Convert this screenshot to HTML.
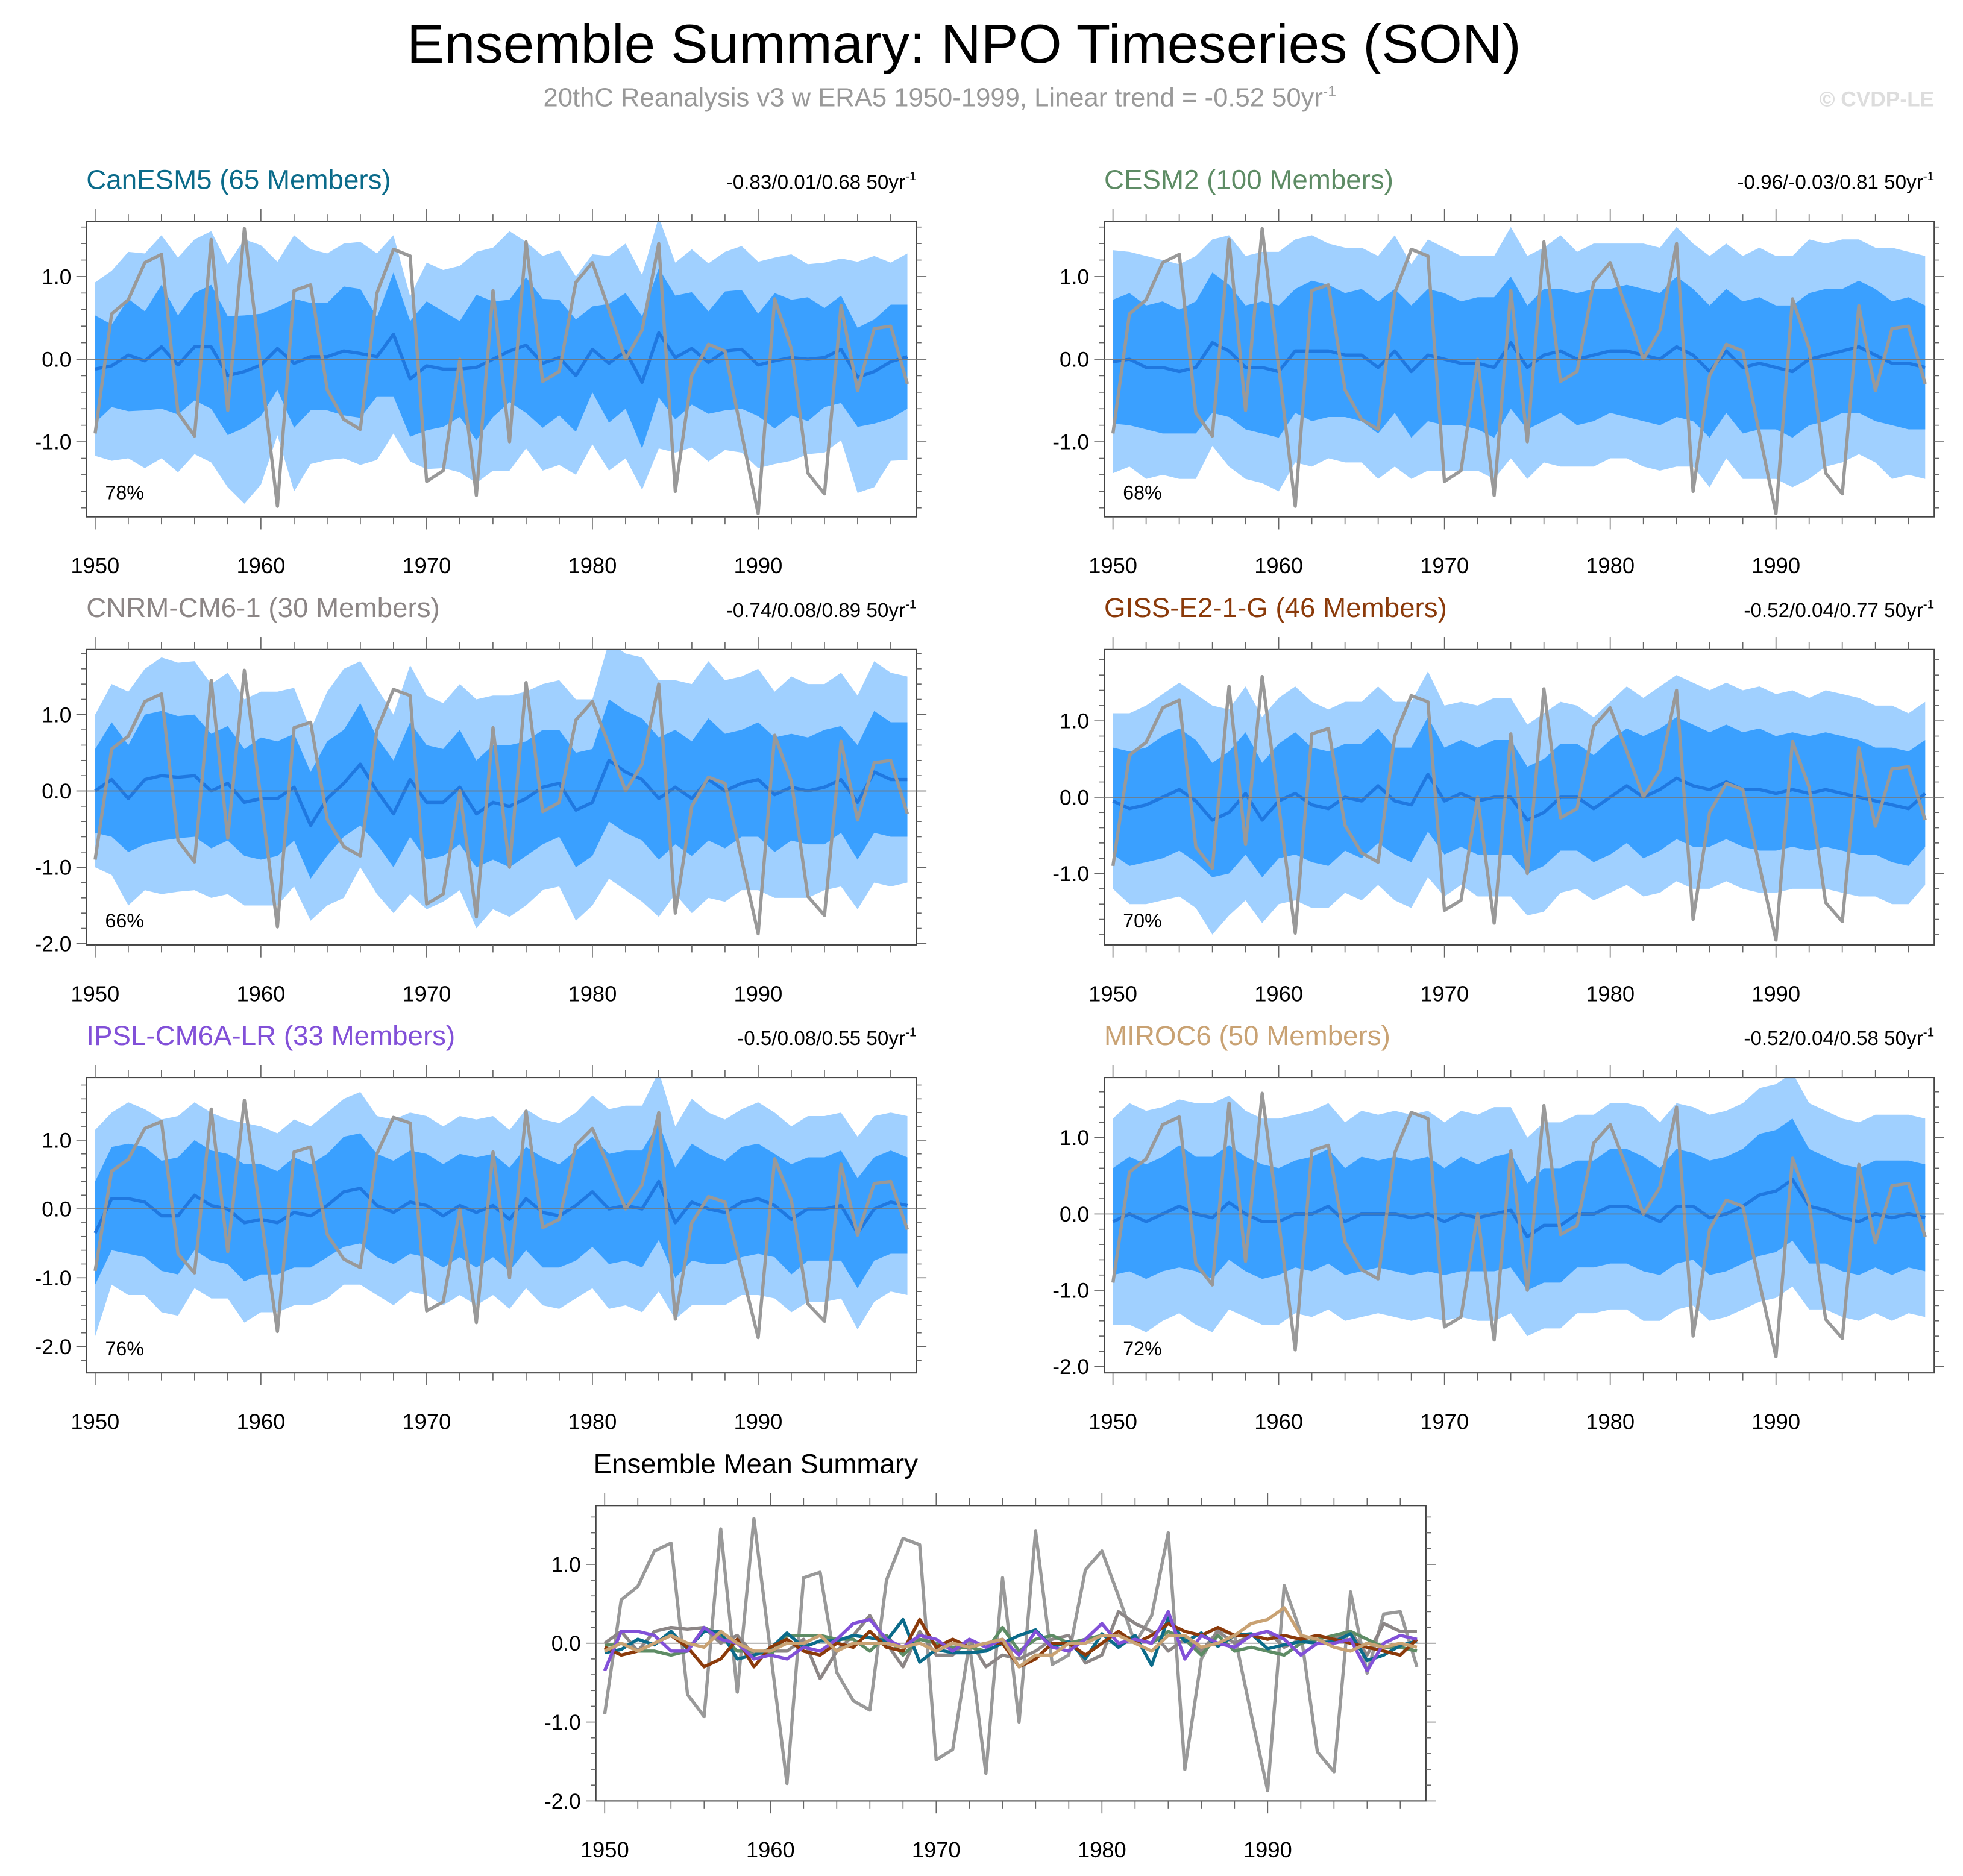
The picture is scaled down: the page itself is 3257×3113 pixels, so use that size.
<!DOCTYPE html>
<html><head><meta charset="utf-8">
<style>
html,body{margin:0;padding:0;background:#fff;}
svg{display:block;font-family:"Liberation Sans",sans-serif;}
</style></head>
<body>
<svg id="chart" width="3257" height="3113" viewBox="0 0 1568 1499" preserveAspectRatio="none" xmlns="http://www.w3.org/2000/svg">
<text x="325" y="50" font-size="44" textLength="890" lengthAdjust="spacingAndGlyphs" fill="#000">Ensemble Summary: NPO Timeseries (SON)</text>
<text x="434" y="85" font-size="21" fill="#999">20thC Reanalysis v3 w ERA5 1950-1999, Linear trend = -0.52 50yr<tspan dy="-8" font-size="12">-1</tspan></text>
<text x="1545" y="85" font-size="17" font-weight="bold" text-anchor="end" fill="#ddd">© CVDP-LE</text>
<g id="plots"></g>
</svg>
<script>
const years = [];
for (let y = 1950; y <= 1999; y++) years.push(y);
const xTickLabels = ["1950","1960","1970","1980","1990"];
const obs = [-0.9,0.55,0.72,1.17,1.27,-0.65,-0.93,1.45,-0.62,1.58,-0.1,-1.78,0.83,0.9,-0.37,-0.73,-0.85,0.8,1.33,1.25,-1.48,-1.35,0.0,-1.65,0.83,-1.0,1.42,-0.27,-0.15,0.93,1.17,0.6,0.0,0.35,1.4,-1.6,-0.2,0.18,0.1,-0.9,-1.87,0.73,0.13,-1.38,-1.63,0.65,-0.38,0.37,0.4,-0.3];

const canMean = [-0.12,-0.08,0.05,-0.02,0.15,-0.07,0.15,0.15,-0.2,-0.15,-0.07,0.13,-0.05,0.03,0.03,0.1,0.07,0.03,0.3,-0.24,-0.08,-0.12,-0.12,-0.1,0.0,0.1,0.17,-0.05,0.02,-0.2,0.12,-0.05,0.1,-0.28,0.32,0.02,0.13,-0.04,0.1,0.12,-0.07,-0.02,0.02,0.0,0.02,0.12,-0.22,-0.15,-0.03,0.03];
const canOuter = [1.05,1.15,1.25,1.3,1.35,1.3,1.3,1.4,1.35,1.6,1.45,1.05,1.55,1.3,1.25,1.3,1.35,1.25,1.2,1.0,1.25,1.2,1.25,1.4,1.35,1.45,1.25,1.3,1.3,1.2,1.15,1.3,1.3,1.3,1.4,1.15,1.2,1.2,1.2,1.25,1.25,1.25,1.25,1.15,1.15,1.1,1.4,1.4,1.2,1.25];
const canInner = [0.65,0.5,0.68,0.6,0.75,0.6,0.65,0.75,0.72,0.68,0.62,0.5,0.78,0.65,0.65,0.78,0.78,0.48,0.75,0.7,0.78,0.7,0.58,0.88,0.7,0.62,0.82,0.78,0.7,0.68,0.52,0.72,0.7,0.8,0.78,0.75,0.68,0.62,0.72,0.72,0.62,0.82,0.7,0.75,0.6,0.65,0.6,0.63,0.69,0.63];

const cesmMean = [-0.03,0.0,-0.1,-0.1,-0.15,-0.1,0.2,0.1,-0.1,-0.1,-0.15,0.1,0.1,0.1,0.05,0.05,-0.1,0.1,-0.15,0.05,0.0,-0.05,-0.05,-0.1,0.2,-0.1,0.05,0.1,0.0,0.05,0.1,0.1,0.05,0.0,0.15,0.05,-0.15,0.1,-0.1,-0.05,-0.1,-0.15,0.0,0.05,0.1,0.15,0.05,-0.05,-0.05,-0.1];
const cesmOuter = [1.35,1.3,1.35,1.3,1.3,1.35,1.25,1.4,1.35,1.4,1.45,1.35,1.4,1.3,1.3,1.3,1.35,1.4,1.3,1.4,1.35,1.3,1.3,1.35,1.4,1.35,1.3,1.4,1.3,1.35,1.3,1.3,1.35,1.35,1.45,1.35,1.4,1.3,1.35,1.4,1.35,1.4,1.45,1.35,1.35,1.3,1.3,1.4,1.35,1.35];
const cesmInner = [0.75,0.8,0.75,0.8,0.75,0.8,0.85,0.8,0.75,0.8,0.8,0.75,0.85,0.8,0.75,0.8,0.8,0.75,0.8,0.8,0.8,0.75,0.8,0.85,0.8,0.75,0.8,0.75,0.8,0.8,0.75,0.8,0.8,0.8,0.85,0.8,0.8,0.75,0.8,0.8,0.75,0.8,0.8,0.8,0.75,0.8,0.8,0.75,0.8,0.75];

const cnrmMean = [0.0,0.15,-0.1,0.15,0.2,0.18,0.2,0.0,0.1,-0.15,-0.1,-0.1,0.05,-0.45,-0.1,0.1,0.35,0.0,-0.3,0.15,-0.15,-0.15,0.05,-0.3,-0.15,-0.2,-0.1,0.05,0.1,-0.25,-0.15,0.4,0.25,0.15,-0.1,0.05,-0.1,0.15,0.0,0.1,0.15,-0.05,0.05,0.0,0.05,0.15,-0.15,0.25,0.15,0.15];
const cnrmOuter = [1.0,1.25,1.4,1.45,1.55,1.5,1.5,1.4,1.45,1.35,1.4,1.4,1.3,1.25,1.4,1.5,1.35,1.35,1.3,1.5,1.4,1.3,1.35,1.5,1.4,1.45,1.4,1.35,1.35,1.45,1.35,1.55,1.55,1.6,1.55,1.4,1.5,1.55,1.45,1.4,1.45,1.35,1.45,1.4,1.35,1.4,1.4,1.45,1.4,1.35];
const cnrmInner = [0.55,0.75,0.7,0.85,0.85,0.8,0.8,0.75,0.75,0.7,0.8,0.75,0.7,0.7,0.75,0.7,0.8,0.7,0.7,0.75,0.75,0.7,0.75,0.7,0.75,0.8,0.75,0.75,0.7,0.75,0.7,0.8,0.8,0.8,0.8,0.75,0.75,0.8,0.75,0.7,0.75,0.75,0.7,0.7,0.75,0.7,0.75,0.8,0.75,0.75];

const gissMean = [-0.05,-0.15,-0.1,0.0,0.1,-0.05,-0.3,-0.2,0.05,-0.3,-0.05,0.05,-0.1,-0.15,0.0,-0.05,0.15,-0.05,-0.1,0.3,-0.05,0.05,-0.05,0.0,0.0,-0.3,-0.2,0.0,0.0,-0.15,0.0,0.15,0.0,0.1,0.25,0.15,0.1,0.2,0.1,0.1,0.05,0.1,0.05,0.1,0.05,0.0,-0.05,-0.1,-0.15,0.05];
const gissOuter = [1.15,1.25,1.3,1.35,1.4,1.4,1.5,1.35,1.4,1.35,1.35,1.4,1.35,1.3,1.25,1.3,1.3,1.3,1.35,1.35,1.25,1.2,1.25,1.3,1.3,1.25,1.3,1.25,1.2,1.2,1.25,1.3,1.3,1.35,1.35,1.35,1.3,1.3,1.3,1.35,1.3,1.3,1.25,1.3,1.3,1.3,1.25,1.3,1.25,1.2];
const gissInner = [0.7,0.75,0.75,0.8,0.8,0.8,0.75,0.8,0.8,0.75,0.75,0.8,0.75,0.75,0.7,0.75,0.75,0.7,0.75,0.75,0.7,0.7,0.7,0.75,0.75,0.7,0.7,0.7,0.7,0.7,0.75,0.75,0.8,0.8,0.8,0.8,0.75,0.75,0.75,0.8,0.75,0.75,0.75,0.75,0.75,0.75,0.7,0.75,0.75,0.7];

const ipslMean = [-0.35,0.15,0.15,0.1,-0.1,-0.1,0.2,0.05,0.0,-0.2,-0.15,-0.2,-0.05,-0.1,0.05,0.25,0.3,0.05,-0.05,0.1,0.05,-0.1,0.05,-0.05,0.05,-0.15,0.15,-0.05,-0.1,0.05,0.25,0.0,0.05,0.0,0.4,-0.2,0.1,0.0,-0.05,0.1,0.15,0.05,-0.15,0.0,0.0,0.05,-0.35,0.0,0.1,0.05];
const ipslOuter = [1.5,1.25,1.4,1.35,1.4,1.45,1.35,1.35,1.3,1.45,1.35,1.3,1.35,1.3,1.35,1.35,1.4,1.3,1.35,1.3,1.3,1.3,1.3,1.35,1.3,1.3,1.3,1.35,1.35,1.35,1.4,1.45,1.45,1.5,1.6,1.4,1.5,1.4,1.35,1.35,1.4,1.35,1.35,1.35,1.35,1.35,1.4,1.35,1.3,1.3];
const ipslInner = [0.75,0.75,0.8,0.8,0.8,0.85,0.8,0.8,0.8,0.85,0.8,0.75,0.8,0.75,0.75,0.8,0.8,0.75,0.75,0.75,0.75,0.75,0.75,0.8,0.75,0.75,0.75,0.8,0.75,0.8,0.8,0.8,0.8,0.85,0.85,0.8,0.85,0.8,0.75,0.8,0.8,0.75,0.8,0.75,0.75,0.8,0.8,0.75,0.75,0.7];

const mirocMean = [-0.1,0.0,-0.1,0.0,0.1,0.0,-0.05,0.15,0.0,-0.1,-0.1,0.0,0.0,0.1,-0.1,0.0,0.0,0.0,-0.05,0.0,-0.1,0.0,-0.05,0.0,0.05,-0.3,-0.15,-0.15,0.0,0.0,0.1,0.1,0.0,-0.1,0.1,0.1,-0.05,0.0,0.1,0.25,0.3,0.45,0.1,0.05,-0.05,-0.1,0.0,-0.05,0.0,-0.05];
const mirocOuter = [1.35,1.45,1.45,1.4,1.4,1.45,1.5,1.4,1.35,1.35,1.35,1.3,1.35,1.35,1.3,1.35,1.3,1.35,1.35,1.35,1.3,1.35,1.35,1.4,1.35,1.3,1.35,1.35,1.3,1.3,1.35,1.35,1.4,1.3,1.35,1.3,1.35,1.35,1.35,1.4,1.4,1.4,1.35,1.3,1.3,1.3,1.3,1.35,1.3,1.3];
const mirocInner = [0.7,0.75,0.75,0.75,0.8,0.75,0.8,0.75,0.75,0.75,0.7,0.7,0.75,0.75,0.7,0.75,0.7,0.75,0.75,0.75,0.7,0.75,0.7,0.75,0.75,0.7,0.75,0.75,0.7,0.7,0.75,0.75,0.75,0.7,0.75,0.7,0.75,0.75,0.75,0.8,0.8,0.8,0.75,0.7,0.7,0.7,0.7,0.75,0.7,0.7];

const panelNames = ["CanESM5 (65 Members)","CESM2 (100 Members)","CNRM-CM6-1 (30 Members)","GISS-E2-1-G (46 Members)","IPSL-CM6A-LR (33 Members)","MIROC6 (50 Members)"];
const panelTrends = ["-0.83/0.01/0.68","-0.96/-0.03/0.81","-0.74/0.08/0.89","-0.52/0.04/0.77","-0.5/0.08/0.55","-0.52/0.04/0.58"];
const panelPercents = ["78%","68%","66%","70%","76%","72%"];
const panelColors = ["#0b6b8a","#5e8c65","#8c8686","#8b3a0a","#8250d8","#c9a273"];
const panelMeans = [canMean,cesmMean,cnrmMean,gissMean,ipslMean,mirocMean];
const panelOuter = [canOuter,cesmOuter,cnrmOuter,gissOuter,ipslOuter,mirocOuter];
const panelInner = [canInner,cesmInner,cnrmInner,gissInner,ipslInner,mirocInner];

const NS = "http://www.w3.org/2000/svg";
const root = document.getElementById('plots');
function mk(tag, attrs, parent){ const e=document.createElementNS(NS,tag); for(const k in attrs) e.setAttribute(k,attrs[k]); (parent||root).appendChild(e); return e; }

const geo = [
 [69,177,287,66,-1],[882,177,287,66,-1],
 [69,519,632,61,-2],[882,519,637,61,-1],
 [69,861,966,55,-2],[882,861,970,61,-2]
];
const W=663,H=236;

function axes(g, bx, by, zy, k, yMinLab){
  const xs = yr => bx + 7 + (yr-1950)*13.24;
  const ys = v => zy - v*k;
  mk('rect',{x:bx,y:by,width:W,height:H,fill:'none',stroke:'#444','stroke-width':1},g);
  for(let yr=1950; yr<=1999; yr+=2){
    const major = yr%10===0, L = major?10:6;
    mk('line',{x1:xs(yr),x2:xs(yr),y1:by,y2:by-L,stroke:'#666','stroke-width':0.8},g);
    mk('line',{x1:xs(yr),x2:xs(yr),y1:by+H,y2:by+H+L,stroke:'#666','stroke-width':0.8},g);
  }
  xTickLabels.forEach(t=>{
    const tx = mk('text',{x:xs(+t),y:by+H+45,'font-size':17.5,'text-anchor':'middle',fill:'#000'},g);
    
    
    tx.textContent=t;
  });
  for(let i=-15;i<=15;i++){
    const v=i*0.2, y=ys(v);
    if(y<by-0.5||y>by+H+0.5) continue;
    const major = i%5===0, L=major?8:4;
    mk('line',{x1:bx,x2:bx-L,y1:y,y2:y,stroke:'#666','stroke-width':0.8},g);
    mk('line',{x1:bx+W,x2:bx+W+L,y1:y,y2:y,stroke:'#666','stroke-width':0.8},g);
    if(major && v>=yMinLab-0.01){
      const tx = mk('text',{x:bx-12,y:y+6,'font-size':17,'text-anchor':'end',fill:'#000'},g);
      
      
      tx.textContent=(Math.round(v*10)/10).toFixed(1);
    }
  }
  mk('line',{x1:bx,x2:bx+W,y1:ys(0),y2:ys(0),stroke:'#777','stroke-width':0.8},g);
  return {xs,ys};
}
function linePath(vals, xs, ys){ return vals.map((v,i)=>(i?'L':'M')+xs(years[i]).toFixed(1)+','+ys(v).toFixed(1)).join(''); }
function bandPath(mean, w, xs, ys){
  let d = mean.map((m,i)=>(i?'L':'M')+xs(years[i]).toFixed(1)+','+ys(m+w[i]).toFixed(1)).join('');
  for(let i=mean.length-1;i>=0;i--) d+='L'+xs(years[i]).toFixed(1)+','+ys(mean[i]-w[i]).toFixed(1);
  return d+'Z';
}

panelNames.forEach((nm,p)=>{
  const [bx,by,zy,k,ymin]=geo[p];
  const g = mk('g',{});
  
  
  const t = mk('text',{x:bx,y:by-26,'font-size':22,fill:panelColors[p]},g);
  
  
  t.textContent=nm;
  const tr = mk('text',{x:bx+W,y:by-26,'font-size':16,'text-anchor':'end',fill:'#000'},g);
  
  
  tr.innerHTML = panelTrends[p]+' 50yr<tspan dy="-7" font-size="10">-1</tspan>';
  const clip = mk('clipPath',{id:'c'+p},g);
  mk('rect',{x:bx,y:by,width:W,height:H},clip);
  const xs = yr=>bx+7+(yr-1950)*13.24, ys = v=>zy-v*k;
  const pl = mk('g',{'clip-path':'url(#c'+p+')'},g);
  const ob = mk('path',{d:bandPath(panelMeans[p],panelOuter[p],xs,ys),fill:'#a0d0ff'},pl);
  
  
  const ib = mk('path',{d:bandPath(panelMeans[p],panelInner[p],xs,ys),fill:'#3aa0ff'},pl);
  
  
  axes(g,bx,by,zy,k,ymin);
  const ml = mk('path',{d:linePath(panelMeans[p],xs,ys),fill:'none',stroke:'#1f78e0','stroke-width':2.6,'stroke-linejoin':'round'},pl);
  
  
  const ol = mk('path',{d:linePath(obs,xs,ys),fill:'none',stroke:'#999','stroke-width':2.6,'stroke-linejoin':'round'},pl);
  
  
  const pc = mk('text',{x:bx+15,y:by+H-14,'font-size':15.5,fill:'#000'},g);
  
  
  pc.textContent=panelPercents[p];
});

(function(){
  const bx=476,by=1203,zy=1313,k=63;
  const g = mk('g',{});
  
  
  const t = mk('text',{x:474,y:1177,'font-size':22,fill:'#000'},g);
  
  
  t.textContent='Ensemble Mean Summary';
  const {xs,ys}=axes(g,bx,by,zy,k,-2);
  const ol = mk('path',{d:linePath(obs,xs,ys),fill:'none',stroke:'#999','stroke-width':2.6,'stroke-linejoin':'round'},g);
  
  
  const order=[2,1,0,3,4,5];
  order.forEach(p=>{
    const l = mk('path',{d:linePath(panelMeans[p],xs,ys),fill:'none',stroke:panelColors[p],'stroke-width':2.6,'stroke-linejoin':'round'},g);
    
    
  });
})();
</script>
</body></html>
